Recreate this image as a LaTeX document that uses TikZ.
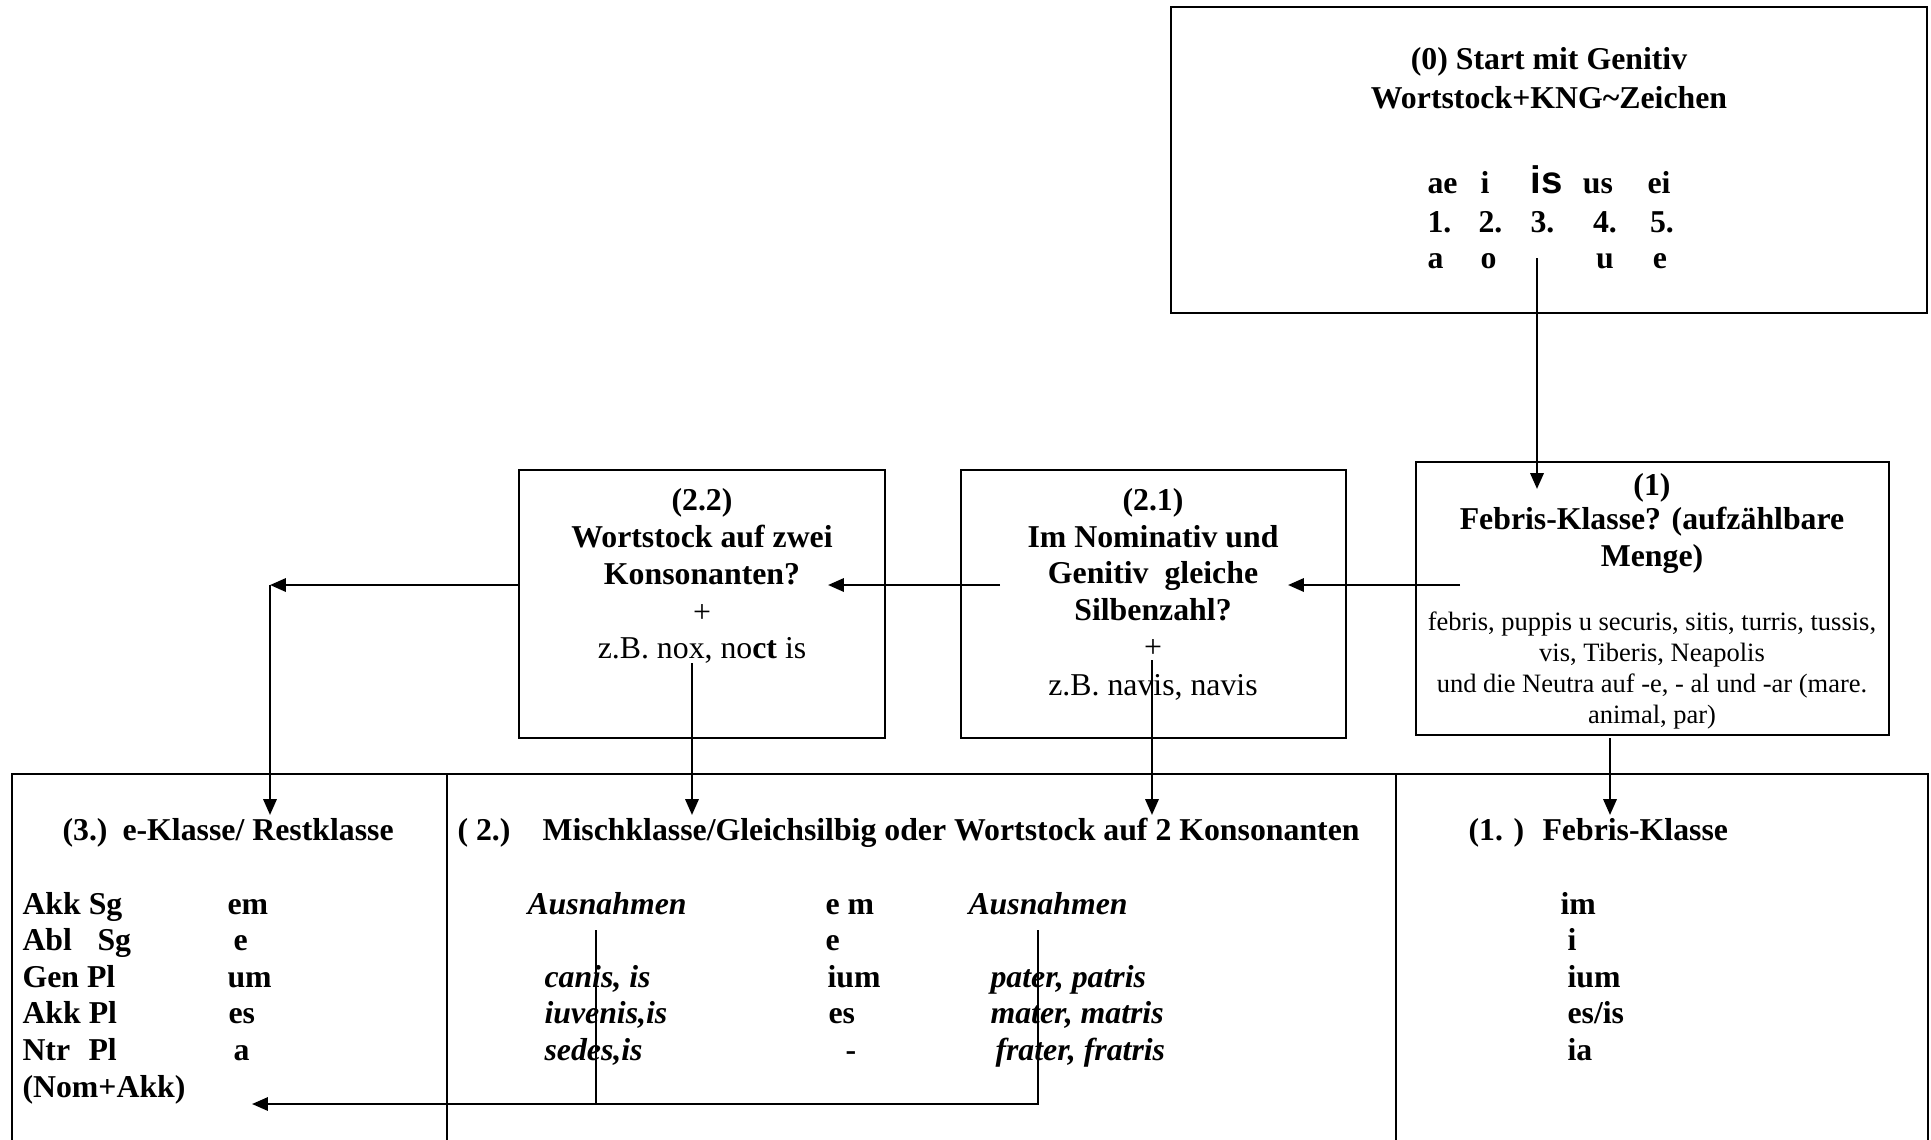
\documentclass[tikz,border=0pt]{standalone}
\usepackage{fontspec}
\setmainfont{Liberation Serif}
\newfontfamily\isfont{Liberation Sans}
\usetikzlibrary{arrows.meta,fit}
\newcommand\szA{\fontsize{12}{14}\selectfont}
\newcommand\szB{\fontsize{10}{11.5}\selectfont}
\begin{document}
\begin{tikzpicture}[x=0.3774pt,y=-0.3774pt,
  box/.style={draw,line width=1pt,inner sep=0pt},
  tw/.style={inner sep=0pt,anchor=base west,font=\szA\bfseries},
  tc/.style={inner sep=0pt,anchor=base,font=\szA\bfseries},
  rc/.style={inner sep=0pt,anchor=base,font=\szA},
  sm/.style={inner sep=0pt,anchor=base,font=\szB},
  bi/.style={inner sep=0pt,anchor=base west,font=\szA\bfseries\itshape},
  tip/.style={-{Triangle[length=6pt,width=5pt]}},
  arr/.style={line width=0.95pt,tip},
  thinline/.style={line width=0.7pt},
  tabline/.style={line width=1pt}]
\useasboundingbox (0,0) rectangle (1931,1139);

% ---------- boxes ----------
\node[box,fit={(1171,7) (1927,313)}] (b0) {};
\node[box,fit={(1416,462) (1889,735)}] (b1) {};
\node[box,fit={(961,470) (1346,738)}] (b21) {};
\node[box,fit={(519,470) (885,738)}] (b22) {};

% ---------- box (0) ----------
\node[tc] (t0a) at (1549,69) {(0) Start mit Genitiv};
\node[tc] (t0b) at (1549,108) {Wortstock+KNG\textasciitilde Zeichen};
\node[tw] (r1a) at (1427,193) {ae};
\node[tw] (r1b) at (1480,193) {i};
\node[inner sep=0pt,anchor=base west,font=\isfont\fontsize{14.5}{16}\selectfont\bfseries] (r1c) at (1530,193) {is};
\node[tc] (r1d) at (1598,193) {us};
\node[tc] (r1e) at (1659,193) {ei};
\node[tw] (r2a) at (1427,232) {1.};
\node[tw] (r2b) at (1478,232) {2.};
\node[tw] (r2c) at (1530,232) {3.};
\node[tc] (r2d) at (1605,232) {4.};
\node[tc] (r2e) at (1662,232) {5.};
\node[tw] (r3a) at (1427,268) {a};
\node[tw] (r3b) at (1480,268) {o};
\node[tc] (r3d) at (1605,268) {u};
\node[tc] (r3e) at (1660,268) {e};

% ---------- box (1) ----------
\node[tc] (t1a) at (1652,495) {(1)};
\node[tc] (t1b) at (1652,529) {Febris-Klasse? (aufzählbare};
\node[tc] (t1c) at (1652,566) {Menge)};
\node[sm] (t1d) at (1652,630) {febris, puppis u securis, sitis, turris, tussis,};
\node[sm] (t1e) at (1652,661) {vis, Tiberis, Neapolis};
\node[sm] (t1f) at (1652,692) {und die Neutra auf -e, - al und -ar (mare.};
\node[sm] (t1g) at (1652,723) {animal, par)};

% ---------- box (2.1) ----------
\node[tc] (t21a) at (1153,510) {(2.1)};
\node[tc] (t21b) at (1153,547) {Im Nominativ und};
\node[tc] (t21c) at (1153,583) {Genitiv~~gleiche};
\node[tc] (t21d) at (1153,620) {Silbenzahl?};
\node[rc] (t21e) at (1153,657) {+};
\node[rc] (t21f) at (1153,695) {z.B. navis, navis};

% ---------- box (2.2) ----------
\node[tc] (t22a) at (702,510) {(2.2)};
\node[tc] (t22b) at (702,547) {Wortstock auf zwei};
\node[tc] (t22c) at (702,584) {Konsonanten?};
\node[rc] (t22d) at (702,622) {+};
\node[rc] (t22e) at (702,658) {z.B. nox, no\textbf{ct} is};

% ---------- table ----------
\coordinate (tl) at (12,1145);
\coordinate (tr) at (1928,1145);
\draw[tabline] (tl) -- (12,774) -- (1928,774) -- (tr);
\draw[tabline] (447,774) -- (447,1145);
\draw[tabline] (1396,774) -- (1396,1145);

\node[tw] (h3a) at (62,840) {(3.)};
\node[tw] (h3b) at (122,840) {e-Klasse/ Restklasse};
\node[tw] (h2a) at (457,840) {( 2.)};
\node[tw] (h2b) at (542,840) {Mischklasse/Gleichsilbig oder Wortstock auf 2 Konsonanten};
\node[tw] (h1a) at (1468,840) {(1. )};
\node[tw] (h1b) at (1542,840) {Febris-Klasse};

% left column
\node[tw] (l1) at (22,914) {Akk Sg};
\node[tw] (l2a) at (22,950) {Abl};
\node[tw] (l2b) at (97,950) {Sg};
\node[tw] (l3) at (22,987) {Gen Pl};
\node[tw] (l4) at (22,1023) {Akk Pl};
\node[tw] (l5a) at (22,1060) {Ntr};
\node[tw] (l5b) at (88,1060) {Pl};
\node[tw] (l6) at (22,1097) {(Nom+Akk)};
\node[tw] (e1) at (227,914) {em};
\node[tw] (e2) at (233,950) {e};
\node[tw] (e3) at (227,987) {um};
\node[tw] (e4) at (228,1023) {es};
\node[tw] (e5) at (233,1060) {a};

% middle column
\node[bi] (m1) at (527,914) {Ausnahmen};
\node[bi] (m2) at (544,987) {canis, is};
\node[bi] (m3) at (544,1023) {iuvenis,is};
\node[bi] (m4) at (544,1060) {sedes,is};
\node[tw] (n1) at (825,914) {e m};
\node[tw] (n2) at (825,950) {e};
\node[tw] (n3) at (827,987) {ium};
\node[tw] (n4) at (828,1023) {es};
\node[tw] (n5) at (845,1060) {-};
\node[bi] (p1) at (968,914) {Ausnahmen};
\node[bi] (p2) at (990,987) {pater, patris};
\node[bi] (p3) at (990,1023) {mater, matris};
\node[bi] (p4) at (995,1060) {frater, fratris};

% right column
\node[tw] (f1) at (1560,914) {im};
\node[tw] (f2) at (1567,950) {i};
\node[tw] (f3) at (1567,987) {ium};
\node[tw] (f4) at (1567,1023) {es/is};
\node[tw] (f5) at (1567,1060) {ia};

% ---------- connectors ----------
\coordinate (c0s) at (1537,258);
\coordinate (c0e) at (1537,489);
\draw[arr] (c0s) -- (c0e);

\coordinate (c1s) at (1460,585);
\coordinate (c1e) at (1288,585);
\draw[arr] (c1s) -- (c1e);

\coordinate (c2s) at (1000,585);
\coordinate (c2e) at (828,585);
\draw[arr] (c2s) -- (c2e);

\coordinate (c3s) at (519,585);
\coordinate (c3e) at (270,585);
\draw[arr] (c3s) -- (c3e);

\coordinate (d3e) at (270,815);
\draw[arr] (c3e) -- (d3e);

\coordinate (d22s) at (692,663);
\coordinate (d22e) at (692,815);
\draw[arr] (d22s) -- (d22e);

\coordinate (d21s) at (1152,660);
\coordinate (d21e) at (1152,815);
\draw[arr] (d21s) -- (d21e);

\coordinate (d1s) at (1610,738);
\coordinate (d1e) at (1610,815);
\draw[arr] (d1s) -- (d1e);

\coordinate (x1) at (596,930);
\coordinate (x2) at (1038,930);
\coordinate (xb) at (252,1104);
\draw[thinline] (x1) -- (596,1104);
\draw[thinline,line width=0.85pt,tip] (x2) -- (1038,1104) -- (xb);
\end{tikzpicture}
\end{document}
